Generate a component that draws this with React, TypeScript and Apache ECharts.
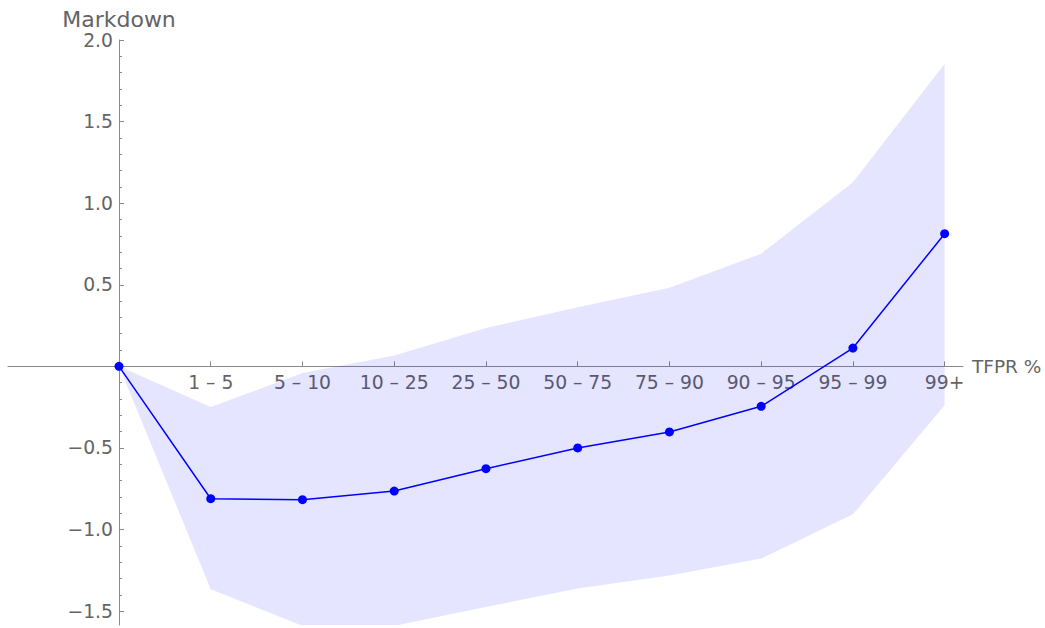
import React, { useEffect, useRef } from "react";
import * as echarts from "echarts";

const CATEGORIES = ["", "1 \u2013 5", "5 \u2013 10", "10 \u2013 25", "25 \u2013 50", "50 \u2013 75", "75 \u2013 90", "90 \u2013 95", "95 \u2013 99", "99+"];
const MEAN = [0, -0.811, -0.817, -0.764, -0.627, -0.5, -0.402, -0.245, 0.112, 0.813];
const UPPER = [0, -0.249, -0.041, 0.067, 0.235, 0.363, 0.482, 0.69, 1.129, 1.855];
const LOWER = [0, -1.366, -1.59, -1.59, -1.475, -1.362, -1.281, -1.178, -0.907, -0.239];

const X_TICKS = [1, 2, 3, 4, 5, 6, 7, 8, 9];
const Y_MAJOR = [-1.5, -1.0, -0.5, 0.5, 1.0, 1.5, 2.0];
const Y_MINOR = [
  -1.4, -1.3, -1.2, -1.1, -0.9, -0.8, -0.7, -0.6, -0.4, -0.3, -0.2, -0.1,
  0.1, 0.2, 0.3, 0.4, 0.6, 0.7, 0.8, 0.9, 1.1, 1.2, 1.3, 1.4, 1.6, 1.7, 1.8, 1.9,
];

const X_MIN = -1.21;
const X_MAX = 9.2;
const Y_MIN = -1.585;
const Y_MAX = 2.0;

const TEXT = "#646464";
const AXIS = "#8a8a8a";
const FONT = "'DejaVu Sans', 'Liberation Sans', sans-serif";

const GRID = { left: 8, right: 82, top: 40, bottom: 3 };
const W = 1045;
const H = 628;

export default function App() {
  const ref = useRef<HTMLDivElement>(null);
  useEffect(() => {
    if (!ref.current) return;
    const chart = echarts.init(ref.current, null, { renderer: "svg" });
    const fmtY = (v: number) => (v < 0 ? "\u2212" : "") + Math.abs(v).toFixed(1);
    const gw = W - GRID.left - GRID.right;
    const gh = H - GRID.top - GRID.bottom;
    // place axes where the other axis is zero
    const yAxisOffset = -gw * ((0 - X_MIN) / (X_MAX - X_MIN));
    const xAxisOffset = -gh * ((0 - Y_MIN) / (Y_MAX - Y_MIN));

    chart.setOption({
      animation: false,
      textStyle: { fontFamily: FONT },
      grid: { ...GRID, outerBoundsMode: "none", containLabel: false },
      xAxis: {
        type: "value",
        min: X_MIN,
        max: X_MAX,
        position: "bottom",
        offset: xAxisOffset,
        name: "TFPR %",
        nameLocation: "end",
        nameGap: 9,
        nameTextStyle: { color: TEXT, fontSize: 18.5, fontFamily: FONT },
        axisLine: { onZero: false, lineStyle: { color: AXIS, width: 1 } },
        axisTick: { show: true, inside: true, length: 5, customValues: X_TICKS, lineStyle: { color: AXIS } },
        axisLabel: {
          customValues: X_TICKS,
          formatter: (v: number) => CATEGORIES[Math.round(v)] ?? "",
          color: TEXT,
          fontSize: 18.75,
          margin: 7,
          fontFamily: FONT,
          hideOverlap: false,
        },
        splitLine: { show: false },
      },
      yAxis: [
        {
          type: "value",
          min: Y_MIN,
          max: Y_MAX,
          position: "left",
          offset: yAxisOffset,
          name: "Markdown",
          nameLocation: "end",
          nameGap: 8,
          nameTextStyle: { color: TEXT, fontSize: 22, fontFamily: FONT, align: "center" },
          axisLine: { onZero: false, lineStyle: { color: AXIS, width: 1 } },
          axisTick: { show: true, inside: true, length: 5, customValues: Y_MAJOR, lineStyle: { color: AXIS } },
          axisLabel: {
            customValues: Y_MAJOR,
            formatter: fmtY,
            color: TEXT,
            fontSize: 18.75,
            margin: 6,
            fontFamily: FONT,
          },
          splitLine: { show: false },
        },
        {
          type: "value",
          min: Y_MIN,
          max: Y_MAX,
          position: "left",
          offset: yAxisOffset,
          axisLine: { show: false, onZero: false },
          axisTick: { show: true, inside: true, length: 3, customValues: Y_MINOR, lineStyle: { color: AXIS } },
          axisLabel: { show: false },
          splitLine: { show: false },
        },
      ],
      series: [
        {
          type: "custom",
          name: "band",
          data: UPPER.map((v, i) => [i, LOWER[i], v]),
          silent: true,
          z: 1,
          renderItem: (params: any, api: any) => {
            if (params.dataIndex !== 0) return null;
            const pts: number[][] = [];
            UPPER.forEach((v, i) => pts.push(api.coord([i, v])));
            for (let i = LOWER.length - 1; i >= 0; i--) pts.push(api.coord([i, LOWER[i]]));
            const cs = params.coordSys;
            return {
              type: "polygon",
              shape: { points: pts },
              style: { fill: "rgba(0,0,255,0.1)", stroke: "none" },
              clipPath: { type: "rect", shape: { x: cs.x, y: cs.y, width: cs.width, height: cs.height } },
            };
          },
        },
        {
          type: "line",
          name: "mean",
          data: MEAN.map((v, i) => [i, v]),
          symbol: "circle",
          symbolSize: 9,
          lineStyle: { color: "#0000ff", width: 1.5 },
          itemStyle: { color: "#0000ff" },
          z: 5,
        },
      ],
    });
    return () => chart.dispose();
  }, []);
  return (
    <div
      ref={ref}
      style={{ position: "absolute", left: 0, top: 0, width: W, height: H }}
    />
  );
}
